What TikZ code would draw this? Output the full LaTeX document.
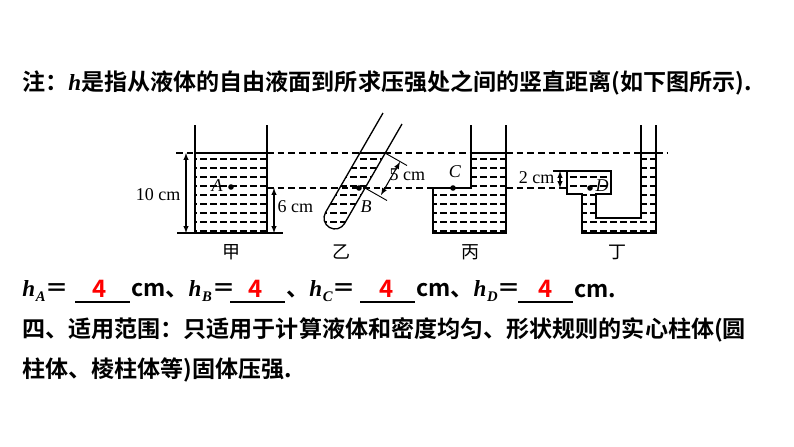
\documentclass[tikz,border=0pt]{standalone}
\usepackage{fontspec}
\newfontfamily\cjk{Noto Sans CJK SC Bold}
\newfontfamily\cjkl{Noto Sans CJK SC}
\newfontfamily\tms{Liberation Serif}
\newcommand{\hsub}[1]{{\tms\bfseries\itshape h\kern0.5pt\raisebox{-4pt}{\fontsize{11pt}{11pt}\selectfont #1}}}
\begin{document}
\begin{tikzpicture}[x=0.75pt,y=-0.75pt,
  wall/.style={line width=1pt},
  refline/.style={dashed,dash pattern=on 5pt off 3pt,line width=0.8pt},
  txt/.style={font=\cjk\fontsize{17.3pt}{20pt}\selectfont,inner sep=0pt,anchor=west},
  lbl/.style={font=\tms\fontsize{13.5pt}{16pt}\selectfont,inner sep=1pt},
  ans/.style={font=\cjk\fontsize{18pt}{20pt}\selectfont,text=red,inner sep=0pt},
  dimarr/.style={<->,>=latex,line width=0.8pt}]
\useasboundingbox (0,0) rectangle (794,447);
\newcommand{\hatchlines}{\foreach \yy in {159,168,...,234} \draw[dashed,dash pattern=on 5pt off 2.5pt,line width=0.8pt] (170,\yy) -- (680,\yy);}
% text
\node[txt] (t1) at (22,83) {注：{\tms\bfseries\itshape h}是指从液体的自由液面到所求压强处之间的竖直距离(如下图所示).};
\node[txt] (t3) at (22,330) {四、适用范围：只适用于计算液体和密度均匀、形状规则的实心柱体(圆};
\node[txt] (t4) at (22,370) {柱体、棱柱体等)固体压强.};
% answers line
\node[txt] (hA) at (22,291) {\hsub{A}＝};
\node[ans] (a1) at (100,289) {4};
\draw[line width=1pt] (75,302) -- (130,302);
\node[txt] (u1) at (131,291) {cm、\hsub{B}＝};
\node[ans] (a2) at (256,289) {4};
\draw[line width=1pt] (230,302) -- (285,302);
\node[txt] (u2) at (286,291) {、\hsub{C}＝};
\node[ans] (a3) at (387,289) {4};
\draw[line width=1pt] (360,302) -- (415,302);
\node[txt] (u3) at (416,291) {cm、\hsub{D}＝};
\node[ans] (a4) at (546,289) {4};
\draw[line width=1pt] (518,302) -- (573,302);
\node[txt] (u4) at (574,291) {cm.};
% ===== 甲
\begin{scope}\clip (195,153) rectangle (267,233); \hatchlines \end{scope}
\draw[wall] (195,125) -- (195,233) (267,125) -- (267,233) (177,233) -- (283,233);
\draw[wall] (195,153) -- (267,153);
\draw[dimarr] (186,153) -- (186,233);
\node[lbl,anchor=east] (l10) at (182,195) {10 cm};
\draw[dimarr] (274,188) -- (274,233);
\node[lbl,anchor=west] (l6) at (276,207) {6 cm};
\fill (231,187) circle (2.8);
\node[lbl] (A) at (217,186) {\itshape A};
\node[lbl] (jia) at (231,252) {\cjkl 甲};
% ===== 乙 tube
\begin{scope}
 \clip (325.5,212.5) -- (383,113) -- (402,124) -- (344.5,223.5) arc[start angle=30,end angle=210,radius=11] -- cycle;
 \fill[white] (300,153) rectangle (420,240);
 \begin{scope}\clip (300,153) rectangle (420,240); \hatchlines \end{scope}
\end{scope}
\draw[wall] (383,113) -- (325.5,212.5) arc[start angle=210,end angle=30,radius=11] -- (402,124);
\draw[wall] (360,153) -- (385,153);
\fill (359,188) circle (2.8);
\node[lbl] (B) at (366,207) {\itshape B};
\draw[line width=0.7pt] (385,153) -- (407,165.5) (365,188) -- (387,200.5);
\draw[dimarr] (381,195) -- (400,162);
\node[lbl,anchor=west] (l5) at (388,175) {5 cm};
\node[lbl] (yi) at (341,252) {\cjkl 乙};
% ===== 丙
\begin{scope}\clip (471,153) -- (506,153) -- (506,233) -- (433,233) -- (433,188) -- (471,188) -- cycle; \hatchlines \end{scope}
\draw[wall] (471,125) -- (471,188) -- (433,188) -- (433,233) -- (506,233) -- (506,125);
\draw[wall] (471,153) -- (506,153);
\fill (453,188) circle (2.8);
\node[lbl] (C) at (455,172) {\itshape C};
\node[lbl] (bing) at (470,252) {\cjkl 丙};
% ===== 丁
\begin{scope}\clip (567,171) -- (611,171) -- (611,194) -- (596,194) -- (596,218) -- (641,218) -- (641,153) -- (656,153) -- (656,233) -- (582,233) -- (582,194) -- (567,194) -- cycle; \hatchlines \end{scope}
\draw[wall] (553,171) -- (611,171) -- (611,194) -- (596,194) -- (596,218) -- (641,218) -- (641,125);
\draw[wall] (567,171) -- (567,194) -- (582,194) -- (582,233) -- (656,233) -- (656,125);
\draw[wall] (641,153) -- (656,153);
\draw[dimarr] (560,171) -- (560,188);
\node[lbl,anchor=east] (l2) at (556,178) {2 cm};
\fill (590,188) circle (2.8);
\node[lbl] (D) at (602,186) {\itshape D};
\node[lbl] (ding) at (617,252) {\cjkl 丁};
% dashed reference lines
\draw[refline] (176,153) -- (195,153) (267,153) -- (471,153) (506,153) -- (641,153) (656,153) -- (668,153);
\draw[refline] (267,188) -- (433,188) (506,188) -- (567,188);
\end{tikzpicture}
\end{document}
